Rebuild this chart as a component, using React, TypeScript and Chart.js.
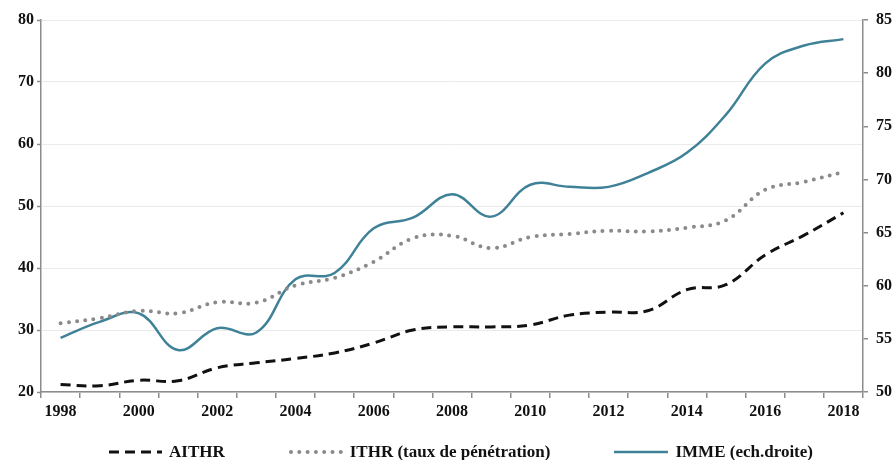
import React, { useEffect, useRef } from 'react';
import { Chart, registerables } from 'chart.js';
Chart.register(...registerables);

const years = ['1998','1999','2000','2001','2002','2003','2004','2005','2006','2007','2008','2009','2010','2011','2012','2013','2014','2015','2016','2017','2018'];
const aithr = [21.2, 21.0, 21.9, 21.8, 23.9, 24.7, 25.4, 26.3, 27.9, 30.0, 30.5, 30.5, 30.8, 32.4, 32.9, 33.1, 36.5, 37.3, 42.1, 45.3, 48.9];
const ithr = [31.1, 31.9, 33.1, 32.7, 34.5, 34.4, 37.2, 38.4, 41.0, 44.8, 45.2, 43.2, 45.0, 45.5, 46.0, 45.9, 46.5, 47.7, 52.6, 53.9, 55.5];
const imme = [55.1, 56.6, 57.4, 53.95, 56.0, 55.6, 60.6, 61.2, 65.4, 66.4, 68.6, 66.5, 69.5, 69.3, 69.3, 70.6, 72.5, 76.1, 80.9, 82.6, 83.2];
const seriesNames = ['AITHR', 'ITHR (taux de pénétration)', 'IMME (ech.droite)'];

const TEAL = '#3f8298';
const GRAY = '#8a8a8a';
const BLACK = '#111111';
const AXIS = '#8c8c8c';
const FONT = '"Liberation Serif", "DejaVu Serif", serif';

export default function App() {
  const ref = useRef<HTMLCanvasElement>(null);
  useEffect(() => {
    const chart = new Chart(ref.current!, {
      type: 'line',
      data: {
        labels: years,
        datasets: [
          { label: seriesNames[0], data: aithr, yAxisID: 'y', borderColor: BLACK, borderWidth: 3, borderDash: [10, 6], pointRadius: 0, tension: 0.4, fill: false },
          { label: seriesNames[1], data: ithr, yAxisID: 'y', borderColor: GRAY, borderWidth: 4, borderDash: [0, 8.3], borderCapStyle: 'round', pointRadius: 0, tension: 0.4, fill: false },
          { label: seriesNames[2], data: imme, yAxisID: 'y2', borderColor: TEAL, borderWidth: 2.5, pointRadius: 0, tension: 0.4, fill: false },
        ],
      },
      options: {
        animation: false,
        responsive: true,
        maintainAspectRatio: false,
        layout: { padding: { top: 20, left: 0, right: 0, bottom: 0 } },
        plugins: { legend: { display: false }, tooltip: { enabled: false } },
        scales: {
          x: {
            type: 'category',
            offset: true,
            grid: { offset: true, drawOnChartArea: false, tickLength: 6, color: AXIS, lineWidth: 1.5 },
            border: { color: AXIS, width: 1.5 },
            ticks: {
              autoSkip: false, maxRotation: 0, padding: 4, color: '#111',
              font: { family: FONT, size: 16, weight: 'bold' },
              callback: (_v: any, i: number) => (i % 2 === 0 ? years[i] : ''),
            },
            afterFit: (s: any) => { s.height = 36; },
          },
          y: {
            position: 'left',
            min: 20, max: 80,
            ticks: { stepSize: 10, padding: 3, color: '#111', font: { family: FONT, size: 16, weight: 'bold' } },
            grid: { color: '#ebebeb', lineWidth: 1, tickLength: 4, tickColor: AXIS, tickWidth: 1.5 },
            border: { color: AXIS, width: 1.5 },
            afterFit: (s: any) => { s.width = 41; },
          },
          y2: {
            position: 'right',
            min: 50, max: 85,
            ticks: { stepSize: 5, padding: 8, color: '#111', font: { family: FONT, size: 16, weight: 'bold' } },
            grid: { drawOnChartArea: false, tickLength: 5, color: AXIS, lineWidth: 1.5 },
            border: { color: AXIS, width: 1.5 },
            afterFit: (s: any) => { s.width = 31; },
          },
        },
      },
    });
    return () => chart.destroy();
  }, []);

  const sample = (i: number) => {
    if (i === 0) return <line x1={1} y1={6} x2={54} y2={6} stroke={BLACK} strokeWidth={3} strokeDasharray="10 6" />;
    if (i === 1) return <line x1={2} y1={6} x2={54} y2={6} stroke={GRAY} strokeWidth={4} strokeDasharray="0 8.3" strokeLinecap="round" />;
    return <line x1={0} y1={6} x2={54} y2={6} stroke={TEAL} strokeWidth={2.5} />;
  };

  return (
    <div style={{ position: 'fixed', left: 0, top: 0, width: 894, height: 460, background: '#fff' }}>
      <div style={{ position: 'absolute', left: 0, top: 0, width: 894, height: 428 }}>
        <canvas ref={ref} />
      </div>
      <div style={{ position: 'absolute', left: 108, top: 442, display: 'flex', gap: 64, fontFamily: FONT, fontWeight: 'bold', fontSize: 17, color: '#111', lineHeight: '20px', whiteSpace: 'nowrap' }}>
        {seriesNames.map((n, i) => (
          <div key={n} style={{ display: 'flex', alignItems: 'center' }}>
            <svg width={55} height={12} style={{ display: 'block' }}>{sample(i)}</svg>
            <span style={{ marginLeft: 6 }}>{n}</span>
          </div>
        ))}
      </div>
    </div>
  );
}
